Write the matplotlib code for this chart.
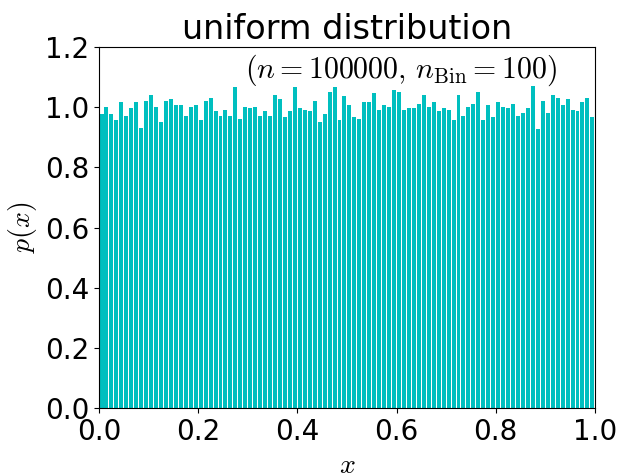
import numpy as np
import matplotlib
matplotlib.use("Agg")
import matplotlib.pyplot as plt

plt.rcParams['mathtext.fontset'] = 'cm'

# density per bin (100 bins on [0, 1])
p_bins = [
    0.977, 0.999, 0.977, 0.959, 1.016, 0.972, 0.996, 1.016, 0.932, 1.022,
    1.039, 0.999, 0.952, 1.019, 1.026, 1.006, 1.006, 0.972, 1.002, 1.006,
    0.959, 1.022, 1.029, 0.986, 0.972, 0.992, 0.972, 1.066, 0.962, 0.999,
    0.996, 0.999, 0.972, 0.986, 0.972, 1.039, 1.026, 0.966, 0.986, 1.066,
    0.996, 0.992, 0.986, 1.019, 0.952, 0.976, 1.052, 1.066, 0.956, 1.036,
    1.006, 0.966, 0.962, 1.016, 1.016, 1.046, 0.989, 1.006, 1.002, 1.056,
    1.049, 0.989, 0.996, 0.996, 1.012, 1.042, 1.002, 1.016, 0.986, 0.996,
    0.989, 0.956, 1.039, 0.972, 0.999, 1.009, 1.049, 0.956, 1.006, 0.966,
    1.016, 1.002, 0.996, 1.009, 0.972, 0.979, 0.996, 1.072, 0.929, 1.019,
    0.982, 1.039, 1.029, 1.006, 1.026, 0.989, 0.986, 1.016, 1.029, 0.969,
]
n_samples = 100000
n_bin = 100
yticks = [0.0, 0.2, 0.4, 0.6, 0.8, 1.0, 1.2]
xticks = [0.0, 0.2, 0.4, 0.6, 0.8, 1.0]

edges = np.linspace(0, 1, n_bin + 1)
centers = 0.5 * (edges[:-1] + edges[1:])
bw = edges[1] - edges[0]

fig = plt.figure(figsize=(6.19, 4.73), dpi=100)
ax = fig.add_axes([0.160, 0.1374, 0.801, 0.7632])

ax.bar(centers, p_bins, width=0.8 * bw, color='c')

ax.set_xlim(0, 1)
ax.set_ylim(0, 1.2)
ax.set_xticks(xticks)
ax.set_yticks(yticks)
ax.tick_params(labelsize=20)
ax.set_title('uniform distribution', fontsize=24)
ax.set_xlabel('$x$', fontsize=20)
ax.set_ylabel('$p(x)$', fontsize=20)
ax.text(0.923, 0.985, r'$(n=%d,\, n_{\rm Bin}=%d)$' % (n_samples, n_bin),
        transform=ax.transAxes, ha='right', va='top', fontsize=21.5)

fig.savefig('out.png', dpi=100)
